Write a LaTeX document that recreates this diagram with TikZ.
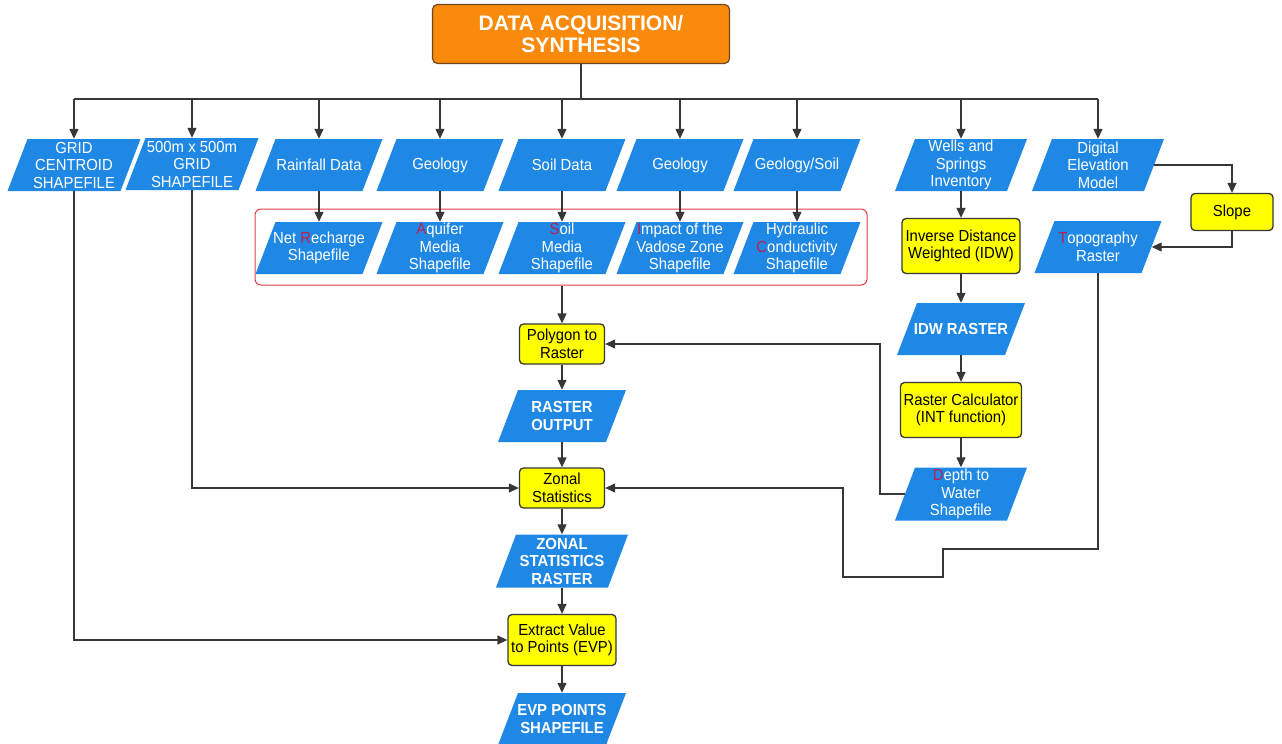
\documentclass[tikz,border=0pt]{standalone}
\usepackage{fontspec}
\setmainfont{Liberation Sans}
\newfontfamily\nf[FakeStretch=0.93]{Liberation Sans}
\usetikzlibrary{arrows.meta}
\definecolor{dblue}{RGB}{31,136,229}
\definecolor{lgray}{RGB}{55,55,55}
\definecolor{redc}{RGB}{226,62,72}
\definecolor{accent}{RGB}{190,30,80}
\definecolor{orangec}{RGB}{250,138,12}
\definecolor{obord}{RGB}{110,70,30}
\definecolor{yel}{RGB}{255,255,0}
\newcommand\ac[1]{\textcolor{accent}{#1}}
\begin{document}
\begin{tikzpicture}[x=1pt,y=-1pt,
  databox/.style={rectangle, draw=none, text=white,
    minimum width=130pt, minimum height=52pt, inner sep=1pt, align=center,
    font=\nf\fontsize{16}{17.5}\selectfont,
    path picture={\fill[dblue] (path picture bounding box.south west)
      -- ([xshift=-20pt]path picture bounding box.south east)
      -- (path picture bounding box.north east)
      -- ([xshift=20pt]path picture bounding box.north west) -- cycle;}},
  databold/.style={databox, font=\nf\bfseries\fontsize{16}{17.5}\selectfont},
  procbox/.style={rectangle, rounded corners=4pt, fill=yel, draw=lgray,
    line width=1.3pt, align=center, inner sep=1pt,
    font=\nf\fontsize{16}{17.5}\selectfont},
  titlebox/.style={rectangle, rounded corners=5pt, fill=orangec, draw=obord,
    line width=1.2pt, align=center, text=white,
    minimum width=297pt, minimum height=59pt,
    font=\bfseries\fontsize{21}{22.5}\selectfont},
  ln/.style={draw=lgray, line width=1.3pt},
  arr/.style={ln, -{Triangle[length=10pt,width=9pt]}}
]
\useasboundingbox (0,0) rectangle (1282,744);

% title
\node[titlebox] (title) at (581,34) {DATA ACQUISITION/\\SYNTHESIS};

% top row
\node[databox, minimum width=133pt] (grid) at (74,165) {GRID\\CENTROID\\SHAPEFILE};
\node[databox, minimum width=133pt] (g500) at (192,164) {500m x 500m\\GRID\\SHAPEFILE};
\node[databox, minimum width=127pt] (rain) at (319,165) {Rainfall Data};
\node[databox, minimum width=127pt] (geo1) at (440,165) {Geology};
\node[databox, minimum width=127pt] (soild) at (562,165) {Soil Data};
\node[databox, minimum width=127pt] (geo2) at (680,165) {Geology};
\node[databox, minimum width=127pt] (gs) at (797,165) {Geology/Soil};
\node[databox, minimum width=132pt] (wells) at (961,165) {Wells and\\Springs\\Inventory};
\node[databox, minimum width=132pt] (dem) at (1098,165) {Digital\\Elevation\\Model};

% red group
\node[draw=redc, line width=1pt, rounded corners=6pt, minimum width=612pt,
  minimum height=76pt] (redbox) at (561,247) {};
\node[databox, minimum width=127pt] (rech) at (319,248) {Net \ac{R}echarge\\Shapefile};
\node[databox, minimum width=127pt] (aqu) at (440,248) {\ac{A}quifer\\Media\\Shapefile};
\node[databox, minimum width=127pt] (soilm) at (562,248) {\ac{S}oil\\Media\\Shapefile};
\node[databox, minimum width=127pt] (imp) at (680,248) {\ac{I}mpact of the\\Vadose Zone\\Shapefile};
\node[databox, minimum width=127pt] (hyd) at (797,248) {Hydraulic\\\ac{C}onductivity\\Shapefile};

% central column
\node[procbox, minimum width=85pt, minimum height=40pt] (poly) at (562,344) {Polygon to\\Raster};
\node[databold, minimum width=128pt] (rout) at (562,416) {RASTER\\OUTPUT};
\node[procbox, minimum width=85pt, minimum height=40pt] (zonal) at (562,488) {Zonal\\Statistics};
\node[databold, minimum width=132pt, minimum height=53pt] (zsr) at (562,561) {ZONAL\\STATISTICS\\RASTER};
\node[procbox, minimum width=108pt, minimum height=51pt] (evp) at (562,640) {Extract Value\\to Points (EVP)};
\node[databold, minimum width=128pt] (evps) at (562,719) {EVP POINTS\\SHAPEFILE};

% right column
\node[procbox, minimum width=118pt, minimum height=55pt] (idw) at (961,246) {Inverse Distance\\Weighted (IDW)};
\node[databold, minimum width=128pt] (idwr) at (961,329) {IDW RASTER};
\node[procbox, minimum width=121pt, minimum height=55pt] (rcalc) at (961,410) {Raster Calculator\\(INT function)};
\node[databox, minimum width=132pt, minimum height=53pt] (depth) at (961,494) {\ac{D}epth to\\Water\\Shapefile};

\node[procbox, minimum width=82pt, minimum height=37pt] (slope) at (1232,212) {Slope};
\node[databox, minimum width=127pt] (topo) at (1098,247) {\ac{T}opography\\Raster};

% bus
\coordinate (bus) at (0,99);
\draw[ln] (title.south) -- (title.south |- bus);
\draw[ln] (grid.center |- bus) -- (dem.center |- bus);
\foreach \n in {grid,g500,rain,geo1,soild,geo2,gs,wells,dem}
  \draw[arr] (\n.center |- bus) -- (\n.north);
\foreach \a/\b in {rain/rech,geo1/aqu,soild/soilm,geo2/imp,gs/hyd}
  \draw[arr] (\a.south) -- (\b.north);

% central flow
\draw[arr] (soilm.center |- redbox.south) -- (poly.north);
\draw[arr] (poly.south) -- (rout.north);
\draw[arr] (rout.south) -- (zonal.north);
\draw[arr] (zonal.south) -- (zsr.north);
\draw[arr] (zsr.south) -- (evp.north);
\draw[arr] (evp.south) -- (evps.north);

% left feeders
\draw[arr] (grid.south) |- (evp.west);
\draw[arr] (g500.south) |- (zonal.west);

% right column flow
\draw[arr] (wells.south) -- (idw.north);
\draw[arr] (idw.south) -- (idwr.north);
\draw[arr] (idwr.south) -- (rcalc.north);
\draw[arr] (rcalc.south) -- (depth.north);

% depth -> polygon
\coordinate (j1) at (880,0);
\coordinate (dw) at ([xshift=10pt]depth.west);
\draw[arr] (dw) -- (dw -| j1) |- (poly.east);

% DEM -> slope -> topo
\coordinate (de) at ([xshift=-10pt]dem.east);
\coordinate (te) at ([xshift=-10pt]topo.east);
\draw[arr] (de) -| (slope.north);
\draw[arr] (slope.south) |- (te);

% topo -> zonal
\coordinate (t1) at (943,549);
\coordinate (t2) at (943,577);
\coordinate (t3) at (843,577);
\draw[arr] (topo.south) |- (t1) -- (t2) -- (t3) |- (zonal.east);
\end{tikzpicture}
\end{document}
